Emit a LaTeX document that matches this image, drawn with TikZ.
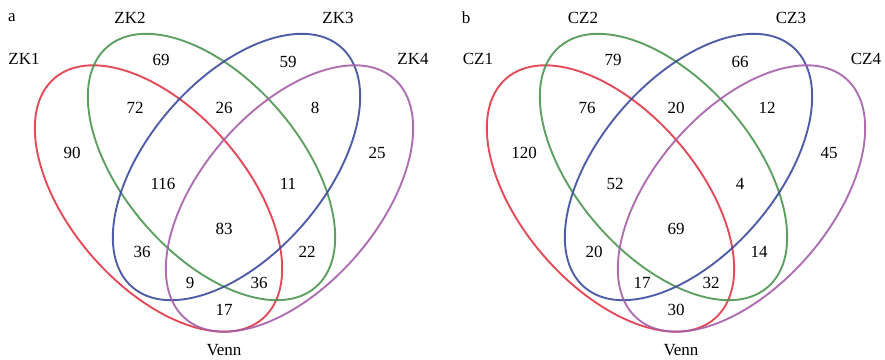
\documentclass[tikz,border=0pt]{standalone}
\usepackage{fontspec}
\setmainfont{Liberation Serif}
\usepackage{tikz}
\usetikzlibrary{positioning}
\definecolor{vennred}{RGB}{225,55,70}
\definecolor{venngreen}{RGB}{75,150,80}
\definecolor{vennblue}{RGB}{60,75,160}
\definecolor{vennpurple}{RGB}{165,95,170}
\tikzset{
  set/.style    = {line width=1.9pt, draw opacity=0.9},
  setred/.style = {set, draw=vennred},
  setgreen/.style  = {set, draw=venngreen},
  setblue/.style   = {set, draw=vennblue},
  setpurple/.style = {set, draw=vennpurple},
  num/.style    = {inner sep=0pt, font=\fontsize{17}{20}\selectfont},
  lbl/.style    = {inner sep=0pt, font=\fontsize{17}{20}\selectfont},
}
\begin{document}
\begin{tikzpicture}[x=1pt,y=1pt]
  \useasboundingbox (0,0) rectangle (885,359);
  % panel a
  \begin{scope}
    \draw[setred]    (158.5,160.5) ellipse [x radius=159, y radius=88, rotate=-49];
    \draw[setgreen]  (211.5,192)   ellipse [x radius=159, y radius=88, rotate=-49];
    \draw[setblue]   (236.5,192)   ellipse [x radius=159, y radius=88, rotate=49];
    \draw[setpurple] (289.5,160.5) ellipse [x radius=159, y radius=88, rotate=49];
    \foreach \v/\x/\y [count=\i] in {69/161/299, 59/288/297, 72/135/251, 26/224/251,
        8/315/251, 90/72/206, 25/377/206, 116/163/175, 11/288/175, 83/224/130,
        36/142/107, 22/307/107, 9/190/76, 36/259/76, 17/224/49}
      \node[num] (na\i) at (\x,\y) {\v};
    \node[lbl] (pa)   at (12,341)  {a};
    \node[lbl] (zk1)  at (24,300)  {ZK1};
    \node[lbl] (zk2)  at (130,341) {ZK2};
    \node[lbl] (zk3)  at (338,341) {ZK3};
    \node[lbl] (zk4)  at (413,300) {ZK4};
    \node[lbl] (vna)  at (224,9)   {Venn};
  \end{scope}
  % panel b
  \begin{scope}[xshift=452pt]
    \draw[setred]    (158.5,160.5) ellipse [x radius=159, y radius=88, rotate=-49];
    \draw[setgreen]  (211.5,192)   ellipse [x radius=159, y radius=88, rotate=-49];
    \draw[setblue]   (236.5,192)   ellipse [x radius=159, y radius=88, rotate=49];
    \draw[setpurple] (289.5,160.5) ellipse [x radius=159, y radius=88, rotate=49];
    \foreach \v/\x/\y [count=\i] in {79/161/299, 66/288/297, 76/135/251, 20/224/251,
        12/315/251, 120/72/206, 45/377/206, 52/163/175, 4/288/175, 69/224/130,
        20/142/107, 14/307/107, 17/190/76, 32/259/76, 30/224/49}
      \node[num] (nb\i) at (\x,\y) {\v};
    \node[lbl] (pb)   at (14,341)  {b};
    \node[lbl] (cz1)  at (26,300)  {CZ1};
    \node[lbl] (cz2)  at (131,341) {CZ2};
    \node[lbl] (cz3)  at (339,341) {CZ3};
    \node[lbl] (cz4)  at (414,300) {CZ4};
    \node[lbl] (vnb)  at (229,9)   {Venn};
  \end{scope}
\end{tikzpicture}
\end{document}
